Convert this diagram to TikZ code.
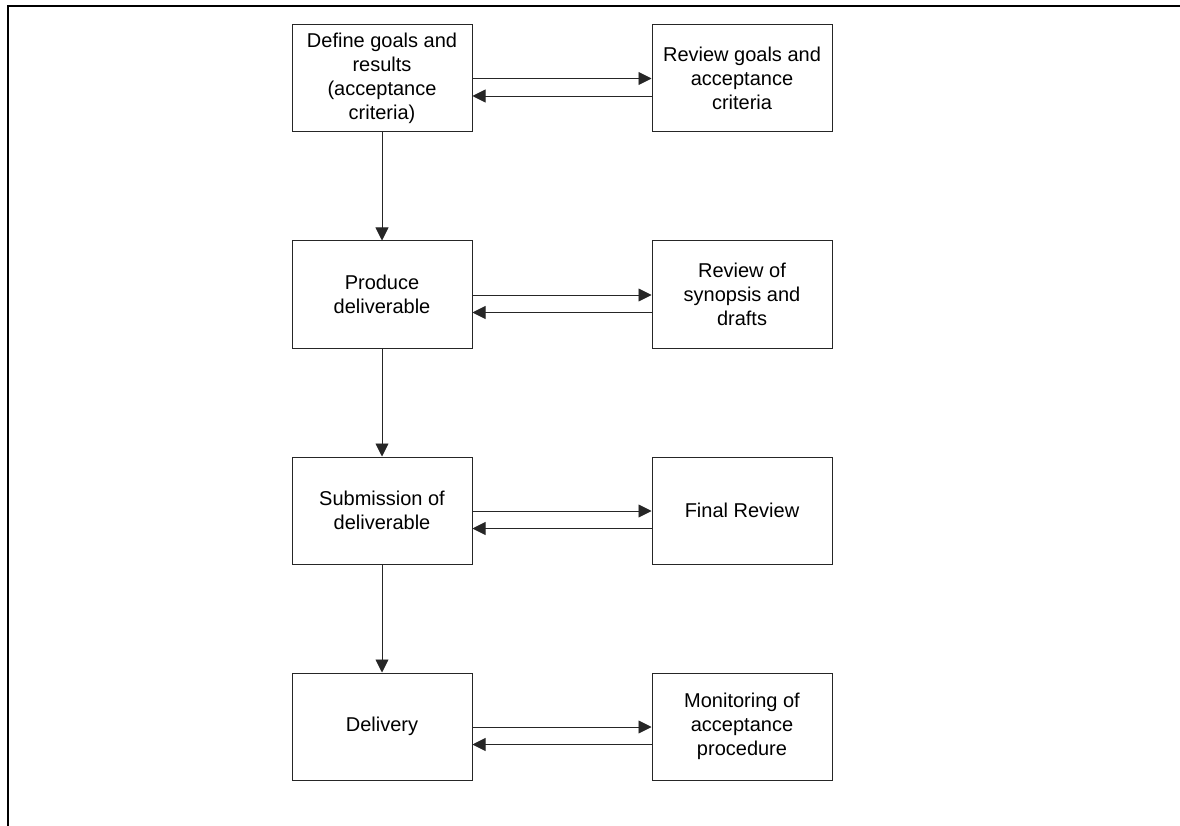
\documentclass[tikz,border=0pt]{standalone}
\usepackage{fontspec}
\setmainfont{Liberation Sans}
\usetikzlibrary{arrows.meta}
\begin{document}
\begin{tikzpicture}[x=1pt,y=-1pt,
  box/.style={draw=black!85,line width=1pt,minimum width=180pt,minimum height=107pt,
    inner sep=0pt,align=center,font=\fontsize{20pt}{24pt}\selectfont},
  conn/.style={draw=black!85,line width=0.9pt,-{Triangle[length=13pt,width=13pt]}}]
\useasboundingbox (0,0) rectangle (1180,826);
\fill[white] (0,0) rectangle (1180,826);
\draw[line width=2.2pt] (8,826) -- (8,6) -- (1180,6);
\node[box] (a1) at (382,78) {Define goals and\\results\\(acceptance\\criteria)};
\node[box] (b1) at (742,78) {Review goals and\\acceptance\\criteria};
\node[box] (a2) at (382,294.5) {Produce\\deliverable};
\node[box] (b2) at (742,294.5) {Review of\\synopsis and\\drafts};
\node[box] (a3) at (382,510.5) {Submission of\\deliverable};
\node[box] (b3) at (742,510.5) {Final Review};
\node[box] (a4) at (382,726.5) {Delivery};
\node[box] (b4) at (742,726.5) {Monitoring of\\acceptance\\procedure};
\foreach \i in {1,2,3,4}{
  \draw[conn] ([yshift=-0.5pt]a\i.east) -- ([yshift=-0.5pt]b\i.west);
  \draw[conn] ([yshift=-18pt]b\i.west) -- ([yshift=-18pt]a\i.east);
}
\foreach \i/\j in {1/2,2/3,3/4}{
  \draw[conn] (a\i.south) -- (a\j.north);
}
\end{tikzpicture}
\end{document}
